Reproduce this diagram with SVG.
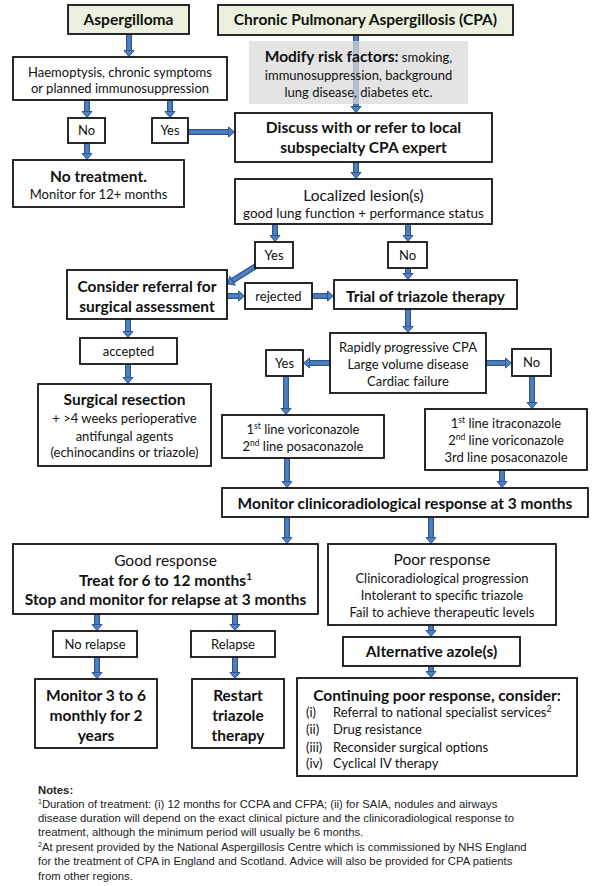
<svg xmlns="http://www.w3.org/2000/svg" xmlns:xlink="http://www.w3.org/1999/xlink" width="599" height="886" viewBox="0 0 599 886">
<style>
text{font-family:Lato,"Open Sans","Liberation Sans",sans-serif;fill:#111;text-anchor:middle}
.b{font-weight:bold;font-size:15.5px}
.n{font-size:13px}
.m{font-size:15.5px}
.s{font-size:13.5px}
.box{fill:#fff;stroke:#111;stroke-width:1.8}
.hdr{fill:#ebf1de;stroke:#111;stroke-width:1.8}
.grey{fill:#d9d9d9;fill-opacity:0.72;stroke:none}
.l{text-anchor:start}
.note{font-family:"Liberation Sans",Arial,sans-serif;font-size:11.3px;text-anchor:start;fill:#222}
</style>
<defs>
<marker id="head" markerUnits="userSpaceOnUse" markerWidth="12" markerHeight="14" refX="0.5" refY="6" orient="auto" overflow="visible">
<path d="M0,1 L6,6 L0,11 Z" fill="#4f81bd" stroke="#2f5597" stroke-width="1"/>
</marker>
<g id="arrows" fill="none">
<path d="M129,34 V51"/>
<path d="M87,100 V112"/>
<path d="M170,100 V112"/>
<path d="M87,143 V154"/>
<path d="M188,132 H229"/>
<path d="M356,35 V107"/>
<path d="M356,162 V173"/>
<path d="M275,224 V236"/>
<path d="M408,224 V236"/>
<path d="M256,266 L232,281"/>
<path d="M408,268 V274"/>
<path d="M227,296 H239"/>
<path d="M312,296 H328"/>
<path d="M128,319 V332"/>
<path d="M128,364 V378"/>
<path d="M408,309 V327"/>
<path d="M330,363 H309"/>
<path d="M486,363 H506"/>
<path d="M286,376 V409"/>
<path d="M532,376 V403"/>
<path d="M287,458 V482"/>
<path d="M502,470 V482"/>
<path d="M287,517 V538"/>
<path d="M431,517 V538"/>
<path d="M97,614 V625"/>
<path d="M235,614 V625"/>
<path d="M97,657 V673"/>
<path d="M235,657 V673"/>
<path d="M431,625 V631"/>
<path d="M431,666 V672"/>
</g>
</defs>
<g id="connectors">
<use xlink:href="#arrows" href="#arrows" stroke="#2f5597" stroke-width="6"/>
<use xlink:href="#arrows" href="#arrows" stroke="#4f81bd" stroke-width="3.6" marker-end="url(#head)"/>
</g>
<g id="n-aspergilloma"><rect class="hdr" x="68" y="5" width="121" height="29"/><text class="b" x="128.5" y="25">Aspergilloma</text></g>
<g id="n-cpa"><rect class="hdr" x="218" y="5" width="295" height="30"/><text class="b" x="365.5" y="25">Chronic Pulmonary Aspergillosis (CPA)</text></g>
<g id="n-haemoptysis"><rect class="box" x="13" y="57" width="214" height="43"/><text class="n" x="120" y="77">Haemoptysis, chronic symptoms</text><text class="n" x="120" y="93">or planned immunosuppression</text></g>
<g id="n-no1"><rect class="box" x="68" y="118" width="37" height="25"/><text class="n" x="86.5" y="135">No</text></g>
<g id="n-yes1"><rect class="box" x="152" y="118" width="36" height="25"/><text class="n" x="170" y="135">Yes</text></g>
<g id="n-notreat"><rect class="box" x="13" y="160" width="171" height="47"/><text class="b" x="98.5" y="182">No treatment.</text><text class="n" x="98.5" y="199">Monitor for 12+ months</text></g>
<g id="n-modify"><rect class="grey" x="249" y="41" width="219" height="63"/><text x="358.5" y="62"><tspan class="b">Modify risk factors:</tspan><tspan class="n"> smoking,</tspan></text><text class="n" x="358.5" y="80">immunosuppression, background</text><text class="n" x="358.5" y="97">lung disease, diabetes etc.</text></g>
<g id="n-discuss"><rect class="box" x="235" y="113" width="257" height="49"/><text class="b" x="363.5" y="133">Discuss with or refer to local</text><text class="b" x="363.5" y="153">subspecialty CPA expert</text></g>
<g id="n-localized"><rect class="box" x="235" y="179" width="257" height="45"/><text class="m" x="363.5" y="201">Localized lesion(s)</text><text class="s" x="363.5" y="217.5">good lung function + performance status</text></g>
<g id="n-yes2"><rect class="box" x="255" y="242" width="38" height="26"/><text class="n" x="274" y="260">Yes</text></g>
<g id="n-no2"><rect class="box" x="388" y="242" width="39" height="26"/><text class="n" x="407.5" y="260">No</text></g>
<g id="n-consider"><rect class="box" x="67" y="270" width="160" height="49"/><text class="b" x="147" y="291.5">Consider referral for</text><text class="b" x="147" y="311.5">surgical assessment</text></g>
<g id="n-rejected"><rect class="box" x="245" y="283" width="67" height="26"/><text class="n" x="278.5" y="301">rejected</text></g>
<g id="n-trial"><rect class="box" x="334" y="280" width="183" height="29"/><text class="b" x="425.5" y="301.5">Trial of triazole therapy</text></g>
<g id="n-accepted"><rect class="box" x="80" y="338" width="97" height="26"/><text class="n" x="128.5" y="356">accepted</text></g>
<g id="n-surgical"><rect class="box" x="38" y="384" width="173" height="82"/><text class="b" x="124.5" y="404.5">Surgical resection</text><text class="n" x="124.5" y="423">+ &gt;4 weeks perioperative</text><text class="n" x="124.5" y="441">antifungal agents</text><text class="n" x="124.5" y="457">(echinocandins or triazole)</text></g>
<g id="n-rapid"><rect class="box" x="330" y="333" width="156" height="60"/><text class="n" x="408" y="352">Rapidly progressive CPA</text><text class="n" x="408" y="369">Large volume disease</text><text class="n" x="408" y="386">Cardiac failure</text></g>
<g id="n-yes3"><rect class="box" x="266" y="350" width="37" height="26"/><text class="n" x="284.5" y="368">Yes</text></g>
<g id="n-no3"><rect class="box" x="512" y="349" width="39" height="27"/><text class="n" x="531.5" y="367">No</text></g>
<g id="n-vori"><rect class="box" x="222" y="415" width="162" height="43"/><text class="n" x="303" y="434">1<tspan font-size="8.5" dy="-5">st</tspan><tspan dy="5"> line voriconazole</tspan></text><text class="n" x="303" y="451">2<tspan font-size="8.5" dy="-5">nd</tspan><tspan dy="5"> line posaconazole</tspan></text></g>
<g id="n-itra"><rect class="box" x="425" y="409" width="162" height="61"/><text class="n" x="506" y="428">1<tspan font-size="8.5" dy="-5">st</tspan><tspan dy="5"> line itraconazole</tspan></text><text class="n" x="506" y="445">2<tspan font-size="8.5" dy="-5">nd</tspan><tspan dy="5"> line voriconazole</tspan></text><text class="n" x="506" y="462">3rd line posaconazole</text></g>
<g id="n-monitor"><rect class="box" x="222" y="488" width="366" height="29"/><text class="b" x="405" y="508.5">Monitor clinicoradiological response at 3 months</text></g>
<g id="n-good"><rect class="box" x="13" y="544" width="305" height="70"/><text class="m" x="165.5" y="565.5">Good response</text><text class="b" x="165.5" y="585.5">Treat for 6 to 12 months<tspan font-size="10" dy="-6">1</tspan></text><text class="b" x="165.5" y="604.5">Stop and monitor for relapse at 3 months</text></g>
<g id="n-poor"><rect class="box" x="328" y="544" width="228" height="81"/><text class="m" x="442" y="564.5">Poor response</text><text class="n" x="442" y="583">Clinicoradiological progression</text><text class="n" x="442" y="600">Intolerant to specific triazole</text><text class="n" x="442" y="617">Fail to achieve therapeutic levels</text></g>
<g id="n-norelapse"><rect class="box" x="53" y="631" width="84" height="26"/><text class="n" x="95" y="649">No relapse</text></g>
<g id="n-relapse"><rect class="box" x="191" y="631" width="84" height="26"/><text class="n" x="233" y="649">Relapse</text></g>
<g id="n-monitor36"><rect class="box" x="35" y="679" width="122" height="69"/><text class="b" x="96" y="700.5">Monitor 3 to 6</text><text class="b" x="96" y="720.5">monthly for 2</text><text class="b" x="96" y="740.5">years</text></g>
<g id="n-restart"><rect class="box" x="192" y="679" width="92" height="69"/><text class="b" x="238" y="700.5">Restart</text><text class="b" x="238" y="720.5">triazole</text><text class="b" x="238" y="740.5">therapy</text></g>
<g id="n-alternative"><rect class="box" x="343" y="637" width="177" height="29"/><text class="b" x="431.5" y="657">Alternative azole(s)</text></g>
<g id="n-continuing"><rect class="box" x="297" y="678" width="280" height="98"/><text class="b" x="437" y="700.5">Continuing poor response, consider:</text>
<text class="n l" x="306" y="717">(i)</text><text class="n l" x="333" y="717">Referral to national specialist services<tspan font-size="8.5" dy="-5">2</tspan></text>
<text class="n l" x="306" y="734">(ii)</text><text class="n l" x="333" y="734">Drug resistance</text>
<text class="n l" x="306" y="752">(iii)</text><text class="n l" x="333" y="752">Reconsider surgical options</text>
<text class="n l" x="306" y="768">(iv)</text><text class="n l" x="333" y="768">Cyclical IV therapy</text></g>
<g id="notes">
<text class="note" x="38" y="794" font-weight="bold" font-size="12px">Notes:</text>
<text class="note" x="38" y="808"><tspan font-size="7" dy="-4">1</tspan><tspan dy="4">Duration of treatment: (i) 12 months for CCPA and CFPA; (ii) for SAIA, nodules and airways</tspan></text>
<text class="note" x="38" y="822">disease duration will depend on the exact clinical picture and the clinicoradiological response to</text>
<text class="note" x="38" y="836">treatment, although the minimum period will usually be 6 months.</text>
<text class="note" x="38" y="851"><tspan font-size="7" dy="-4">2</tspan><tspan dy="4">At present provided by the National Aspergillosis Centre which is commissioned by NHS England</tspan></text>
<text class="note" x="38" y="865">for the treatment of CPA in England and Scotland. Advice will also be provided for CPA patients</text>
<text class="note" x="38" y="880">from other regions.</text>
</g>
</svg>
